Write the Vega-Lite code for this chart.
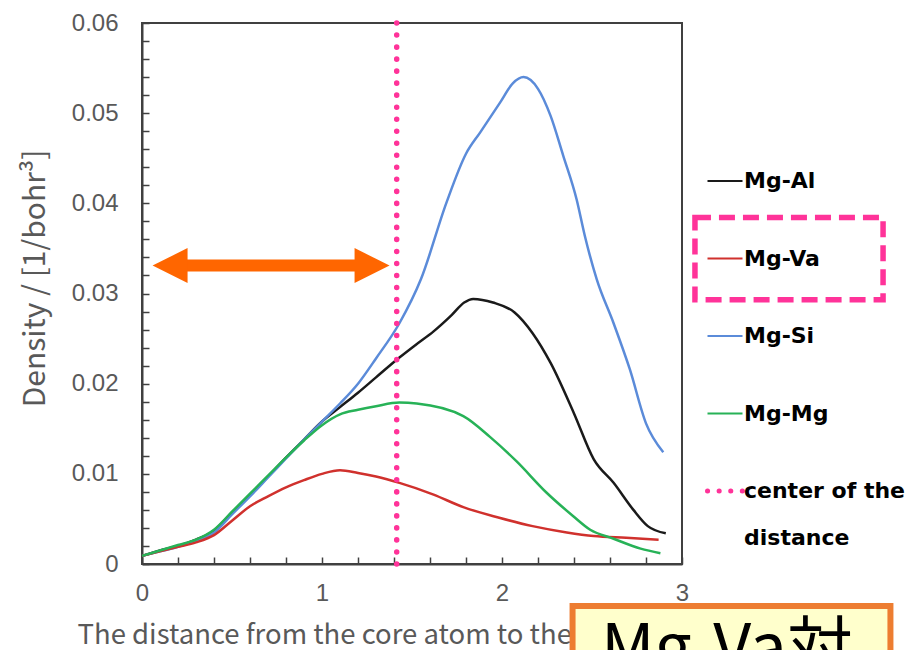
{
  "$schema": "https://vega.github.io/schema/vega-lite/v6.json",
  "width": 540,
  "height": 541,
  "autosize": {"type": "none"},
  "padding": {"left": 142, "top": 23, "right": 240, "bottom": 86},
  "background": "white",
  "config": {
    "font": "Noto Sans CJK JP",
    "view": {"stroke": "#404040", "strokeWidth": 2},
    "axis": {
      "grid": false,
      "domainColor": "#404040",
      "domainWidth": 2,
      "tickColor": "#404040",
      "tickWidth": 1.5,
      "labelFont": "Liberation Sans",
      "labelFontSize": 24,
      "labelColor": "#595959",
      "labelOverlap": false,
      "labelFlush": false,
      "titleFont": "Noto Sans CJK JP",
      "titleFontWeight": "normal",
      "titleColor": "#595959"
    }
  },
  "datasets": {
    "curves": [
      {"series": "Mg-Al", "r": 0, "density": 0.0009},
      {"series": "Mg-Al", "r": 0.1, "density": 0.0015},
      {"series": "Mg-Al", "r": 0.2, "density": 0.002},
      {"series": "Mg-Al", "r": 0.3, "density": 0.0027},
      {"series": "Mg-Al", "r": 0.4, "density": 0.0037},
      {"series": "Mg-Al", "r": 0.5, "density": 0.0057},
      {"series": "Mg-Al", "r": 0.6, "density": 0.0077},
      {"series": "Mg-Al", "r": 0.7, "density": 0.0097},
      {"series": "Mg-Al", "r": 0.8, "density": 0.0118},
      {"series": "Mg-Al", "r": 0.9, "density": 0.0138},
      {"series": "Mg-Al", "r": 1.0, "density": 0.0158},
      {"series": "Mg-Al", "r": 1.1, "density": 0.0174},
      {"series": "Mg-Al", "r": 1.2, "density": 0.019},
      {"series": "Mg-Al", "r": 1.3, "density": 0.0207},
      {"series": "Mg-Al", "r": 1.43, "density": 0.0229},
      {"series": "Mg-Al", "r": 1.52, "density": 0.0243},
      {"series": "Mg-Al", "r": 1.62, "density": 0.0258},
      {"series": "Mg-Al", "r": 1.72, "density": 0.0276},
      {"series": "Mg-Al", "r": 1.79, "density": 0.029},
      {"series": "Mg-Al", "r": 1.84, "density": 0.0294},
      {"series": "Mg-Al", "r": 1.95, "density": 0.029},
      {"series": "Mg-Al", "r": 2.07, "density": 0.0279},
      {"series": "Mg-Al", "r": 2.17, "density": 0.0256},
      {"series": "Mg-Al", "r": 2.27, "density": 0.0223},
      {"series": "Mg-Al", "r": 2.4, "density": 0.0167},
      {"series": "Mg-Al", "r": 2.51, "density": 0.0116},
      {"series": "Mg-Al", "r": 2.62, "density": 0.009},
      {"series": "Mg-Al", "r": 2.73, "density": 0.006},
      {"series": "Mg-Al", "r": 2.81, "density": 0.0042},
      {"series": "Mg-Al", "r": 2.91, "density": 0.0034},

      {"series": "Mg-Si", "r": 0, "density": 0.0009},
      {"series": "Mg-Si", "r": 0.1, "density": 0.0014},
      {"series": "Mg-Si", "r": 0.2, "density": 0.0019},
      {"series": "Mg-Si", "r": 0.3, "density": 0.0026},
      {"series": "Mg-Si", "r": 0.4, "density": 0.0035},
      {"series": "Mg-Si", "r": 0.5, "density": 0.0055},
      {"series": "Mg-Si", "r": 0.6, "density": 0.0075},
      {"series": "Mg-Si", "r": 0.7, "density": 0.0096},
      {"series": "Mg-Si", "r": 0.8, "density": 0.0117},
      {"series": "Mg-Si", "r": 0.9, "density": 0.0138},
      {"series": "Mg-Si", "r": 1.0, "density": 0.0158},
      {"series": "Mg-Si", "r": 1.1, "density": 0.0178},
      {"series": "Mg-Si", "r": 1.2, "density": 0.02},
      {"series": "Mg-Si", "r": 1.3, "density": 0.0228},
      {"series": "Mg-Si", "r": 1.43, "density": 0.0267},
      {"series": "Mg-Si", "r": 1.55, "density": 0.0316},
      {"series": "Mg-Si", "r": 1.69, "density": 0.04},
      {"series": "Mg-Si", "r": 1.8, "density": 0.0455},
      {"series": "Mg-Si", "r": 1.88, "density": 0.0479},
      {"series": "Mg-Si", "r": 1.99, "density": 0.0512},
      {"series": "Mg-Si", "r": 2.06, "density": 0.0533},
      {"series": "Mg-Si", "r": 2.12, "density": 0.054},
      {"series": "Mg-Si", "r": 2.2, "density": 0.0527},
      {"series": "Mg-Si", "r": 2.27, "density": 0.0497},
      {"series": "Mg-Si", "r": 2.34, "density": 0.0453},
      {"series": "Mg-Si", "r": 2.415, "density": 0.0404},
      {"series": "Mg-Si", "r": 2.46, "density": 0.0364},
      {"series": "Mg-Si", "r": 2.526, "density": 0.0316},
      {"series": "Mg-Si", "r": 2.62, "density": 0.0267},
      {"series": "Mg-Si", "r": 2.71, "density": 0.0216},
      {"series": "Mg-Si", "r": 2.8, "density": 0.0156},
      {"series": "Mg-Si", "r": 2.896, "density": 0.0124},

      {"series": "Mg-Va", "r": 0, "density": 0.0009},
      {"series": "Mg-Va", "r": 0.1, "density": 0.0014},
      {"series": "Mg-Va", "r": 0.2, "density": 0.0019},
      {"series": "Mg-Va", "r": 0.3, "density": 0.0024},
      {"series": "Mg-Va", "r": 0.4, "density": 0.0032},
      {"series": "Mg-Va", "r": 0.5, "density": 0.0048},
      {"series": "Mg-Va", "r": 0.6, "density": 0.0064},
      {"series": "Mg-Va", "r": 0.7, "density": 0.0075},
      {"series": "Mg-Va", "r": 0.8, "density": 0.0085},
      {"series": "Mg-Va", "r": 0.9, "density": 0.0093},
      {"series": "Mg-Va", "r": 1.0, "density": 0.01},
      {"series": "Mg-Va", "r": 1.1, "density": 0.0104},
      {"series": "Mg-Va", "r": 1.2, "density": 0.0101},
      {"series": "Mg-Va", "r": 1.3, "density": 0.0097},
      {"series": "Mg-Va", "r": 1.43, "density": 0.009},
      {"series": "Mg-Va", "r": 1.62, "density": 0.0077},
      {"series": "Mg-Va", "r": 1.785, "density": 0.0063},
      {"series": "Mg-Va", "r": 1.99, "density": 0.0051},
      {"series": "Mg-Va", "r": 2.17, "density": 0.0042},
      {"series": "Mg-Va", "r": 2.36, "density": 0.0035},
      {"series": "Mg-Va", "r": 2.51, "density": 0.0031},
      {"series": "Mg-Va", "r": 2.69, "density": 0.0029},
      {"series": "Mg-Va", "r": 2.87, "density": 0.0027},

      {"series": "Mg-Mg", "r": 0, "density": 0.0009},
      {"series": "Mg-Mg", "r": 0.1, "density": 0.0015},
      {"series": "Mg-Mg", "r": 0.2, "density": 0.0021},
      {"series": "Mg-Mg", "r": 0.3, "density": 0.0027},
      {"series": "Mg-Mg", "r": 0.4, "density": 0.0038},
      {"series": "Mg-Mg", "r": 0.5, "density": 0.0058},
      {"series": "Mg-Mg", "r": 0.6, "density": 0.0078},
      {"series": "Mg-Mg", "r": 0.7, "density": 0.0098},
      {"series": "Mg-Mg", "r": 0.8, "density": 0.0118},
      {"series": "Mg-Mg", "r": 0.9, "density": 0.0137},
      {"series": "Mg-Mg", "r": 1.0, "density": 0.0154},
      {"series": "Mg-Mg", "r": 1.1, "density": 0.0166},
      {"series": "Mg-Mg", "r": 1.2, "density": 0.0171},
      {"series": "Mg-Mg", "r": 1.3, "density": 0.0175},
      {"series": "Mg-Mg", "r": 1.43, "density": 0.0179},
      {"series": "Mg-Mg", "r": 1.526, "density": 0.0178},
      {"series": "Mg-Mg", "r": 1.785, "density": 0.0164},
      {"series": "Mg-Mg", "r": 1.933, "density": 0.0141},
      {"series": "Mg-Mg", "r": 2.08, "density": 0.0114},
      {"series": "Mg-Mg", "r": 2.248, "density": 0.0079},
      {"series": "Mg-Mg", "r": 2.396, "density": 0.0053},
      {"series": "Mg-Mg", "r": 2.49, "density": 0.0038},
      {"series": "Mg-Mg", "r": 2.62, "density": 0.0028},
      {"series": "Mg-Mg", "r": 2.77, "density": 0.0017},
      {"series": "Mg-Mg", "r": 2.88, "density": 0.0012}
    ],
    "center": [{"series": "center of the distance", "r": 1.415, "density": 0, "density2": 0.06}],
    "arrowShaft": [{"r": 0.156, "r2": 1.278, "density": 0.0331}],
    "arrowHeads": [
      {"end": "left", "r": 0.156, "density": 0.0331},
      {"end": "right", "r": 1.278, "density": 0.0331}
    ],
    "highlight": [{"r": 3.072, "r2": 4.117, "density": 0.03844, "density2": 0.0293}],
    "noteBox": [{"r": 2.392, "r2": 4.158, "density": -0.004667, "density2": -0.012}],
    "noteText": [{"r": 2.55, "density": -0.0061, "text": "Mg-Va対"}]
  },
  "resolve": {"axis": {"x": "independent", "y": "independent"}},
  "layer": [
    {
      "encoding": {
        "x": {
          "field": "r", "type": "quantitative",
          "scale": {"domain": [0, 3], "nice": false, "zero": false},
          "axis": {
            "orient": "bottom",
            "values": [0, 1, 2, 3],
            "format": "d",
            "ticks": false,
            "labelPadding": 17,
            "title": "The distance from the core atom to the",
            "titleFontSize": 27.5,
            "titleAnchor": "start",
            "titleAlign": "left",
            "titleBaseline": "alphabetic",
            "titleX": -65,
            "titleY": 79
          }
        },
        "y": {
          "field": "density", "type": "quantitative",
          "scale": {"domain": [0, 0.06], "nice": false, "zero": false},
          "axis": {
            "orient": "left",
            "values": [0, 0.01, 0.02, 0.03, 0.04, 0.05, 0.06],
            "format": "~g",
            "ticks": false,
            "labelPadding": 24,
            "title": "Density / [1/bohr³]",
            "titleFontSize": 30,
            "titleAlign": "center",
            "titleBaseline": "alphabetic",
            "titleAngle": -90,
            "titleX": -98,
            "titleY": 255
          }
        }
      },
      "layer": [
        {
          "data": {"name": "curves"},
          "mark": {"type": "line", "interpolate": "monotone", "strokeWidth": 2.5},
          "encoding": {
            "color": {
              "field": "series", "type": "nominal",
              "scale": {
                "domain": ["Mg-Al", "Mg-Va", "Mg-Si", "Mg-Mg", "center of the distance"],
                "range": ["#1a1a1a", "#d0312d", "#5b8bd9", "#27b257", "#ff3399"]
              },
              "legend": {
                "title": null,
                "orient": "none",
                "direction": "vertical",
                "legendX": 572,
                "legendY": 147,
                "padding": 0,
                "symbolType": "stroke",
                "symbolSize": 1225,
                "symbolStrokeWidth": 2,
                "labelFont": "DejaVu Sans",
                "labelFontSize": 22,
                "labelFontWeight": "bold",
                "labelColor": "#000000",
                "labelOffset": 8,
                "labelLimit": 300,
                "rowPadding": 55.5,
                "labelExpr": "datum.value == 'center of the distance' ? ['center of the', 'distance'] : datum.label",
                "encode": {
                  "symbols": {
                    "update": {
                      "strokeDash": {"signal": "datum.value == 'center of the distance' ? [0.1, 11.5] : []"},
                      "strokeWidth": {"signal": "datum.value == 'center of the distance' ? 5 : 2"},
                      "strokeCap": {"signal": "datum.value == 'center of the distance' ? 'round' : 'butt'"}
                    }
                  },
                  "labels": {
                    "update": {
                      "lineHeight": {"value": 47}
                    }
                  }
                }
              }
            }
          }
        },
        {
          "data": {"name": "arrowShaft"},
          "mark": {"type": "rule", "strokeWidth": 12, "color": "#ff6600"},
          "encoding": {
            "x2": {"field": "r2"}
          }
        },
        {
          "data": {"name": "arrowHeads"},
          "mark": {"type": "point", "filled": true, "size": 1225, "opacity": 1, "color": "#ff6600", "strokeWidth": 0},
          "encoding": {
            "shape": {
              "field": "end", "type": "nominal",
              "scale": {"domain": ["left", "right"], "range": ["M1,-1L-1,0L1,1Z", "M-1,-1L1,0L-1,1Z"]},
              "legend": null
            }
          }
        },
        {
          "data": {"name": "highlight"},
          "mark": {"type": "rect", "fill": null, "fillOpacity": 0, "stroke": "#ff3399", "strokeWidth": 5.5, "strokeDash": [16, 8]},
          "encoding": {
            "x2": {"field": "r2"},
            "y2": {"field": "density2"}
          }
        },
        {
          "data": {"name": "noteBox"},
          "mark": {"type": "rect", "fill": "#ffffcc", "stroke": "#ed7d31", "strokeWidth": 6},
          "encoding": {
            "x2": {"field": "r2"},
            "y2": {"field": "density2"}
          }
        },
        {
          "data": {"name": "noteText"},
          "mark": {"type": "text", "align": "left", "baseline": "top", "fontSize": 66, "font": "Noto Sans CJK JP", "color": "#000000"},
          "encoding": {
            "text": {"field": "text"}
          }
        }
      ]
    },
    {
      "data": {"name": "center"},
      "mark": {"type": "rule", "strokeWidth": 5.5, "strokeDash": [0.1, 11.92], "strokeCap": "round"},
      "encoding": {
        "x": {
          "field": "r", "type": "quantitative",
          "scale": {"domain": [0, 3], "nice": false, "zero": false},
          "axis": {
            "orient": "bottom",
            "offset": -7,
            "values": [0, 0.2, 0.4, 0.6, 0.8, 1, 1.2, 1.4, 1.6, 1.8, 2, 2.2, 2.4, 2.6, 2.8, 3],
            "tickSize": 7,
            "labels": false,
            "domain": false,
            "title": null
          }
        },
        "y": {
          "field": "density", "type": "quantitative",
          "scale": {"domain": [0, 0.06], "nice": false, "zero": false},
          "axis": {
            "orient": "left",
            "offset": -7,
            "values": [0, 0.002, 0.004, 0.006, 0.008, 0.01, 0.012, 0.014, 0.016, 0.018, 0.02, 0.022, 0.024, 0.026, 0.028, 0.03, 0.032, 0.034, 0.036, 0.038, 0.04, 0.042, 0.044, 0.046, 0.048, 0.05, 0.052, 0.054, 0.056, 0.058, 0.06],
            "tickSize": 7,
            "labels": false,
            "domain": false,
            "title": null
          }
        },
        "y2": {"field": "density2"},
        "color": {"field": "series", "type": "nominal"}
      }
    }
  ]
}
